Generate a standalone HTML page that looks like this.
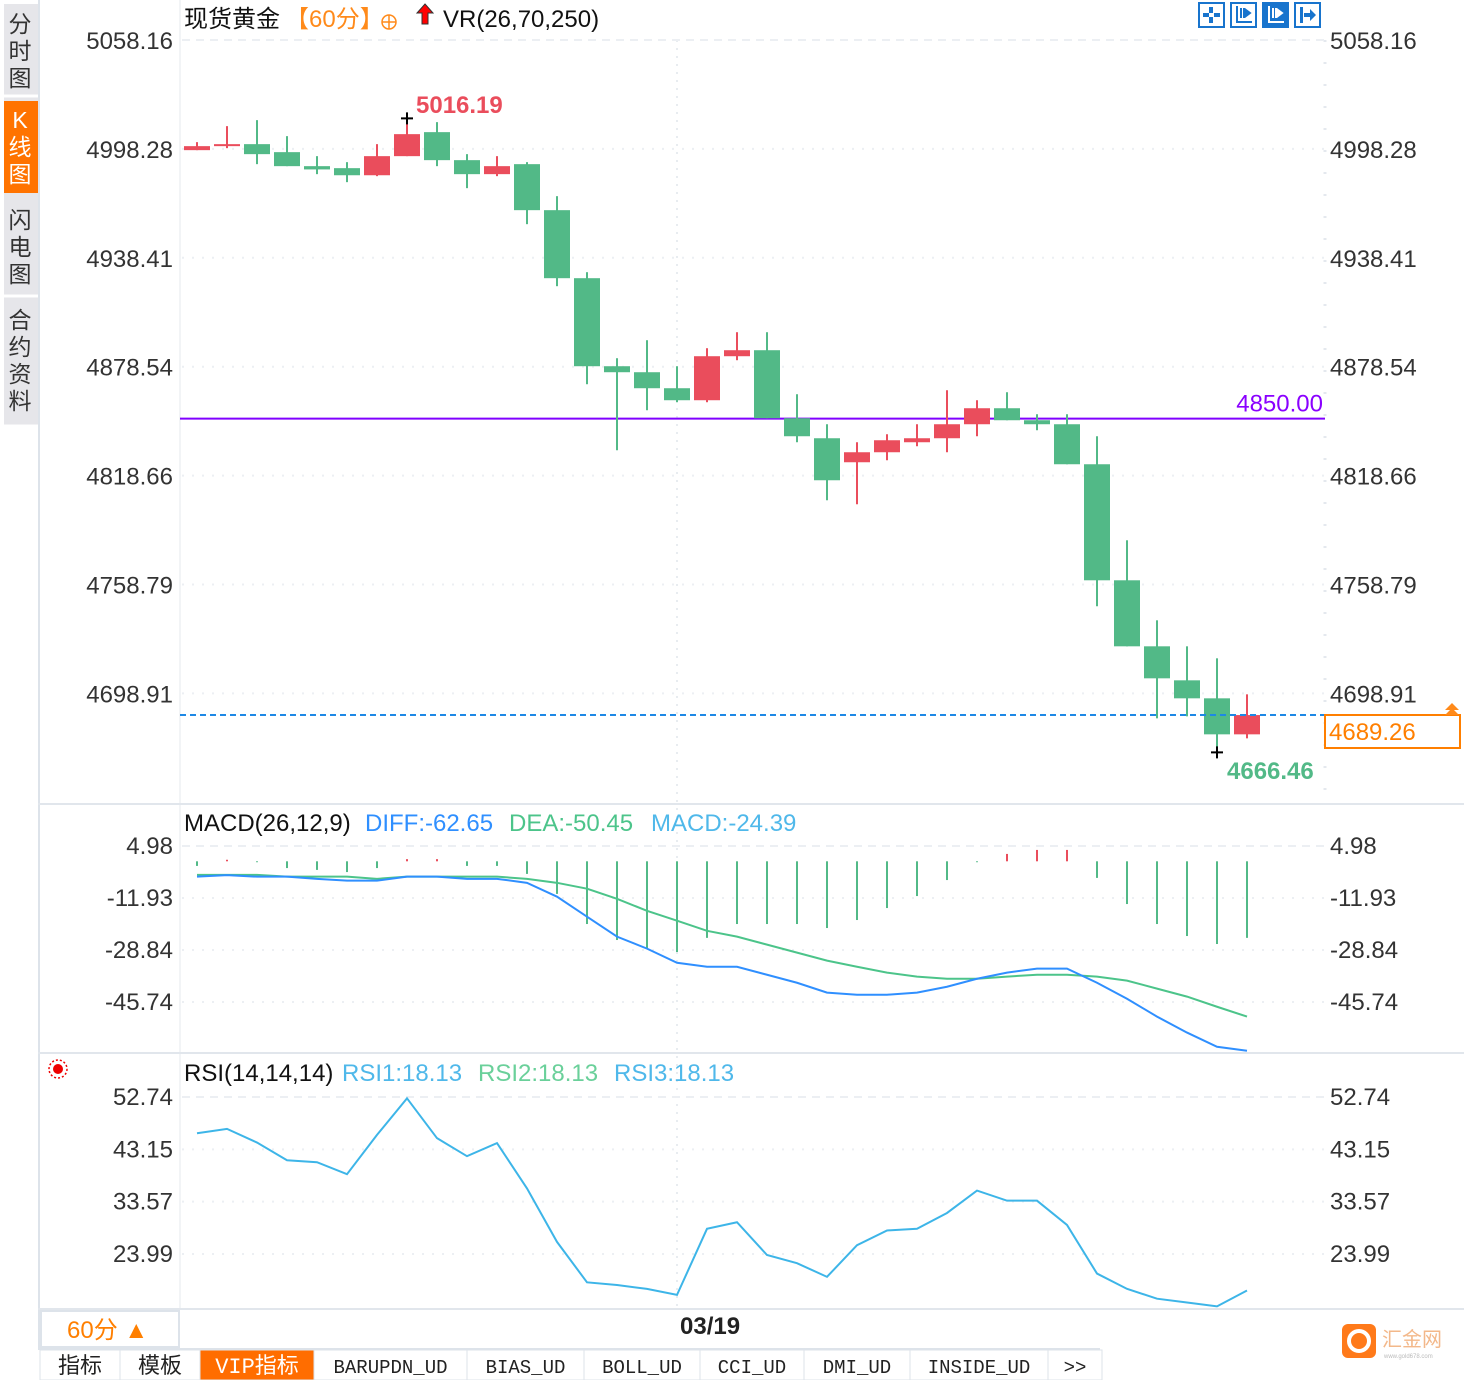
<!DOCTYPE html>
<html><head><meta charset="utf-8">
<style>
html,body{margin:0;padding:0;background:#fff;}
body{width:1464px;height:1380px;overflow:hidden;position:relative;font-family:"Liberation Sans","Noto Sans CJK SC",sans-serif;}
svg{position:absolute;left:0;top:0;}
</style></head>
<body>
<svg id="c" width="1464" height="1380" font-family="'Liberation Sans','Noto Sans CJK SC',sans-serif"></svg>
<script>
// ---- data ----
const opens  = [4997.6,4999.8,5000.9,4996.5,4988.8,4987.7,4983.8,4994.3,5007.5,4992.1,4984.4,4989.9,4964.6,4927.2,4878.8,4875.5,4866.7,4860.1,4884.3,4887.6,4850.2,4839.2,4826.0,4831.5,4837.0,4839.2,4846.9,4855.7,4849.1,4846.9,4824.9,4761.1,4724.8,4706.1,4696.2,4676.4];
const highs  = [5002.0,5010.8,5014.1,5005.3,4994.3,4991.0,5000.9,5016.19,5013.0,4995.4,4994.3,4991.0,4972.3,4930.5,4883.2,4893.1,4878.8,4888.7,4897.5,4897.5,4863.4,4846.9,4837.0,4841.4,4846.9,4865.6,4860.1,4864.5,4852.4,4852.4,4840.3,4783.1,4739.1,4724.8,4718.2,4698.4];
const lows   = [4997.6,4998.7,4989.9,4988.8,4984.4,4980.0,4983.3,4994.3,4988.8,4976.7,4983.3,4956.9,4922.8,4868.9,4832.6,4854.6,4859.0,4859.0,4882.1,4850.2,4837.0,4805.1,4802.9,4827.1,4834.8,4831.5,4840.3,4849.1,4843.6,4824.9,4746.8,4724.8,4685.2,4686.3,4666.46,4674.2];
const closes = [4999.8,5000.9,4995.4,4988.8,4987.0,4983.8,4994.3,5006.4,4992.1,4984.4,4988.8,4964.6,4927.2,4878.8,4875.5,4866.7,4860.1,4884.3,4887.6,4850.2,4840.3,4816.1,4831.5,4838.1,4839.2,4846.9,4855.7,4849.1,4846.9,4824.9,4761.1,4724.8,4707.2,4696.2,4676.4,4687.0];
const priceTicks = [5058.16,4998.28,4938.41,4878.54,4818.66,4758.79,4698.91];
const diffVals = [-5.0,-4.5,-5.0,-5.0,-5.7,-6.3,-6.3,-5.0,-5.0,-5.7,-5.7,-7.0,-11.5,-18.0,-24.5,-28.4,-33.0,-34.3,-34.3,-36.9,-39.5,-42.7,-43.4,-43.4,-42.7,-40.8,-38.2,-36.2,-34.9,-34.9,-39.5,-44.7,-50.5,-55.7,-60.3,-61.6];
const deaVals  = [-4.4,-4.4,-4.4,-5.0,-5.0,-5.0,-5.7,-5.0,-5.0,-5.0,-5.0,-5.7,-7.0,-8.9,-12.2,-16.1,-19.3,-22.6,-24.5,-27.1,-29.7,-32.3,-34.3,-36.2,-37.5,-38.2,-38.2,-37.5,-36.9,-36.9,-37.5,-38.8,-41.4,-44.0,-47.3,-50.5];
const histVals = [-1.5,0.5,-0.3,-2.2,-2.8,-3.5,-2.2,0.7,0.7,-1.5,-1.5,-4.1,-10.6,-20.4,-25.6,-28.2,-29.5,-24.9,-20.4,-20.4,-20.4,-21.7,-19.1,-15.2,-11.3,-6.1,-0.3,2.4,3.7,3.7,-5.4,-13.9,-20.4,-24.3,-26.9,-24.9];
const macdTicks = [4.98,-11.93,-28.84,-45.74];
const rsiVals = [46.1,46.9,44.4,41.15,40.8,38.6,45.8,52.5,45.2,41.9,44.3,36.0,26.2,18.8,18.3,17.6,16.5,28.6,29.8,23.8,22.3,19.8,25.6,28.3,28.6,31.5,35.6,33.75,33.75,29.3,20.4,17.6,15.8,15.1,14.4,17.3];
const rsiTicks = [52.74,43.15,33.57,23.99];

// ---- axes ----
const xOf = i => 197 + i*30;
const yPrice = p => 40 + (5058.16 - p) * (108.9/59.875);
const yMacd = v => 861.3 - v*3.075;
const yRsi = v => 1097 + (52.74 - v)*5.46;

const NS='http://www.w3.org/2000/svg';
const svg=document.getElementById('c');
function mk(tag, attrs, parent){const e=document.createElementNS(NS,tag);for(const k in attrs)e.setAttribute(k,attrs[k]);(parent||svg).appendChild(e);return e;}
function txt(s,x,y,attrs){const e=mk('text',Object.assign({x:x,y:y},attrs));e.textContent=s;return e;}
const RED='#ea4d5c', GRN='#52b987';
const FS=24;

let e;
e=mk('rect',{x:4,y:4,width:34,height:422,fill:'#e6e6ea'});

e=mk('rect',{x:4,y:101,width:34,height:92,fill:'#ff7300'});

[[5,96],[197,296],[300,426]].forEach(r=>{mk('line',{x1:4,x2:38,y1:r[1],y2:r[1],stroke:'#fff','stroke-width':3});});
const tabs=[['分时图',22,'#333'],['K线图',118,'#fff'],['闪电图',218,'#333'],['合约资料',318,'#333']];
tabs.forEach(t=>{const chars=[...t[0]];chars.forEach((ch,j)=>{e=txt(ch,20,t[1]+j*27+10,{'font-size':23,fill:t[2],'text-anchor':'middle'});});});
mk('line',{x1:39,x2:39,y1:0,y2:1350,stroke:'#dde3ea','stroke-width':2});
mk('line',{x1:180,x2:180,y1:0,y2:1310,stroke:'#e4e8ee','stroke-width':1});
mk('line',{x1:1325,x2:1325,y1:40,y2:800,stroke:'#e4e8ee','stroke-width':3,'stroke-dasharray':'2 20'});
mk('line',{x1:38,x2:1464,y1:804,y2:804,stroke:'#e1e6ec','stroke-width':2});
mk('line',{x1:38,x2:1464,y1:1053,y2:1053,stroke:'#e1e6ec','stroke-width':2});
mk('line',{x1:38,x2:1464,y1:1309,y2:1309,stroke:'#e1e6ec','stroke-width':2});
mk('line',{x1:677,x2:677,y1:40,y2:1310,stroke:'#e8ecf0','stroke-width':2,'stroke-dasharray':'2 6'});

priceTicks.forEach((p,i)=>{const y=yPrice(p);
 mk('line',{x1:182,x2:1325,y1:y,y2:y,stroke:'#eceff3','stroke-width':2,'stroke-dasharray':i==0?'8 6':'2 8'});
 e=txt(p.toFixed(2),173,y+9,{'font-size':FS,fill:'#333','text-anchor':'end'});
 e=txt(p.toFixed(2),1330,y+9,{'font-size':FS,fill:'#333'});
});

e=txt('现货黄金',184,27,{'font-size':FS,fill:'#111'});
e=txt('【60分】',285,27,{'font-size':FS,fill:'#ff8a1a'});
e=mk('circle',{cx:389,cy:22,r:7,fill:'none',stroke:'#ff8a1a','stroke-width':1.5});
mk('line',{x1:382,x2:396,y1:22,y2:22,stroke:'#ff8a1a','stroke-width':1.5});mk('line',{x1:389,x2:389,y1:15,y2:29,stroke:'#ff8a1a','stroke-width':1.5});
e=mk('path',{d:'M425 4 L433 13 L428 13 L428 24 L422 24 L422 13 L417 13 Z',fill:'#f00',stroke:'#333','stroke-width':1});
e=txt('VR(26,70,250)',443,27,{'font-size':FS,fill:'#111'});
[1199,1231,1263,1295].forEach((x,i)=>{e=mk('rect',{x:x,y:3,width:25,height:24,fill:i==2?'#1874cd':'#fff',stroke:'#1874cd','stroke-width':2});
 const c=i==2?'#fff':'#1874cd';
 if(i==0){mk('rect',{x:x+10,y:7,width:4,height:6,fill:c});mk('rect',{x:x+10,y:17,width:4,height:6,fill:c});mk('rect',{x:x+4,y:13,width:6,height:4,fill:c});mk('rect',{x:x+15,y:13,width:6,height:4,fill:c});}
 else if(i==3){mk('rect',{x:x+5,y:7,width:3,height:16,fill:c});mk('path',{d:`M${x+9} 13 h6 v-4 l6 6 l-6 6 v-4 h-6z`,fill:c});}
 else {mk('path',{d:`M${x+6} 6 v16 h15`,stroke:c,'stroke-width':2,fill:'none'});mk('path',{d:`M${x+10} 8 v10 M${x+13} 8 v10 M${x+15} 10 l4 3 l-4 3z`,stroke:c,'stroke-width':2,fill:c});}
});

const y4850=yPrice(4850);
e=mk('line',{x1:180,x2:1325,y1:y4850,y2:y4850,stroke:'#8000ff','stroke-width':2});
e=txt('4850.00',1323,y4850-7,{'font-size':FS,fill:'#8a00ff','text-anchor':'end'});

opens.forEach((o,i)=>{const c=closes[i],up=c>=o,col=up?RED:GRN,x=xOf(i);
 const w=mk('line',{x1:x,x2:x,y1:yPrice(highs[i]),y2:yPrice(lows[i]),stroke:col,'stroke-width':2});
 
 const t=yPrice(Math.max(o,c)),b=yPrice(Math.min(o,c));
 const r=mk('rect',{x:x-13,y:t,width:26,height:Math.max(2,b-t),fill:col});
 
});
const hiIdx=highs.indexOf(Math.max(...highs)), loIdx=lows.indexOf(Math.min(...lows));
let hy=yPrice(highs[hiIdx]); mk('path',{d:`M${xOf(hiIdx)-6} ${hy+2} h12 M${xOf(hiIdx)} ${hy-4} v12`,stroke:'#000','stroke-width':2});
e=txt(highs[hiIdx].toFixed(2),416,113,{'font-size':FS,fill:RED,'font-weight':'bold'});
let ly=yPrice(lows[loIdx]); mk('path',{d:`M${xOf(loIdx)-6} ${ly} h12 M${xOf(loIdx)} ${ly-6} v12`,stroke:'#000','stroke-width':2});
e=txt(lows[loIdx].toFixed(2),1227,779,{'font-size':FS,fill:GRN,'font-weight':'bold'});
e=mk('line',{x1:180,x2:1325,y1:715,y2:715,stroke:'#1e88e5','stroke-width':2,'stroke-dasharray':'6 4'});
e=mk('rect',{x:1325,y:715,width:135,height:33,fill:'#fff',stroke:'#ff7f00','stroke-width':2});
e=txt('4689.26',1329,740,{'font-size':FS,fill:'#ff7f00'});
mk('path',{d:'M1445 710 l7 -7 l7 7 z M1445 715 l7 -7 l7 7 z',fill:'#ff8a1a'});

e=txt('MACD(26,12,9)',184,831,{'font-size':FS,fill:'#111'});
e=txt('DIFF:-62.65',365,831,{'font-size':FS,fill:'#2f8fff'});
e=txt('DEA:-50.45',509,831,{'font-size':FS,fill:'#4cc48a'});
e=txt('MACD:-24.39',651,831,{'font-size':FS,fill:'#4fb8ea'});
macdTicks.forEach((v,i)=>{const y=yMacd(v);
 mk('line',{x1:182,x2:1325,y1:y,y2:y,stroke:'#eceff3','stroke-width':2,'stroke-dasharray':i==0?'8 6':'2 8'});
 e=txt(v.toFixed(2),173,y+8,{'font-size':FS,fill:'#333','text-anchor':'end'});
 e=txt(v.toFixed(2),1330,y+8,{'font-size':FS,fill:'#333'});
});
histVals.forEach((v,i)=>{const x=xOf(i),y0=yMacd(0),y1=yMacd(v);
 const b=mk('line',{x1:x,x2:x,y1:y0,y2:y1,stroke:v>=0?RED:GRN,'stroke-width':2});
 
});
e=mk('polyline',{points:deaVals.map((v,i)=>xOf(i)+','+yMacd(v)).join(' '),fill:'none',stroke:'#4cc48a','stroke-width':2});
e=mk('polyline',{points:diffVals.map((v,i)=>xOf(i)+','+yMacd(v)).join(' '),fill:'none',stroke:'#2f8fff','stroke-width':2});

e=mk('circle',{cx:58,cy:1069,r:5,fill:'#e00'});
mk('circle',{cx:58,cy:1069,r:9,fill:'none',stroke:'#e00','stroke-width':1.5,'stroke-dasharray':'2 2'});
e=txt('RSI(14,14,14)',184,1081,{'font-size':FS,fill:'#111'});
e=txt('RSI1:18.13',342,1081,{'font-size':FS,fill:'#4fb8ea'});
e=txt('RSI2:18.13',478,1081,{'font-size':FS,fill:'#6ad09a'});
e=txt('RSI3:18.13',614,1081,{'font-size':FS,fill:'#4fb8ea'});
rsiTicks.forEach((v,i)=>{const y=yRsi(v);
 mk('line',{x1:182,x2:1325,y1:y,y2:y,stroke:'#eceff3','stroke-width':2,'stroke-dasharray':i==0?'8 6':'2 8'});
 e=txt(v.toFixed(2),173,y+8,{'font-size':FS,fill:'#333','text-anchor':'end'});
 e=txt(v.toFixed(2),1330,y+8,{'font-size':FS,fill:'#333'});
});
e=mk('polyline',{points:rsiVals.map((v,i)=>xOf(i)+','+yRsi(v)).join(' '),fill:'none',stroke:'#3db5e8','stroke-width':2});

e=mk('rect',{x:41,y:1311,width:138,height:36,fill:'#fff',stroke:'#dde3ea','stroke-width':2});
e=txt('60分 ▲',67,1338,{'font-size':FS,fill:'#ff7f00'});
e=txt('03/19',680,1334,{'font-size':FS,fill:'#222','font-weight':'bold'});
mk('line',{x1:38,x2:1100,y1:1349,y2:1349,stroke:'#dde3ea','stroke-width':2});
const btabs=[['指标',40,120],['模板',120,200],['VIP指标',200,314],['BARUPDN_UD',314,467],['BIAS_UD',467,584],['BOLL_UD',584,700],['CCI_UD',700,804],['DMI_UD',804,910],['INSIDE_UD',910,1048],['>>',1048,1102]];
btabs.forEach((t,i)=>{const act=i==2;
 e=mk('rect',{x:t[1],y:1350,width:t[2]-t[1],height:30,fill:act?'#ff6d00':'#fff',stroke:'#dde3ea','stroke-width':1});
 
 e=txt(t[0],(t[1]+t[2])/2,1373,{'font-size':i<3?22:19,fill:act?'#fff':'#222','text-anchor':'middle','font-family':"'Liberation Mono','Noto Sans CJK SC',monospace"});
 
});
e=mk('rect',{x:1342,y:1324,width:34,height:34,rx:6,fill:'#ff7a1a'});
mk('circle',{cx:1359,cy:1341,r:10,fill:'none',stroke:'#fff','stroke-width':4});
e=txt('汇金网',1382,1346,{'font-size':20,fill:'#f3b88a'});
txt('www.gold678.com',1384,1358,{'font-size':6,fill:'#bbb'});
</script>
</body></html>
